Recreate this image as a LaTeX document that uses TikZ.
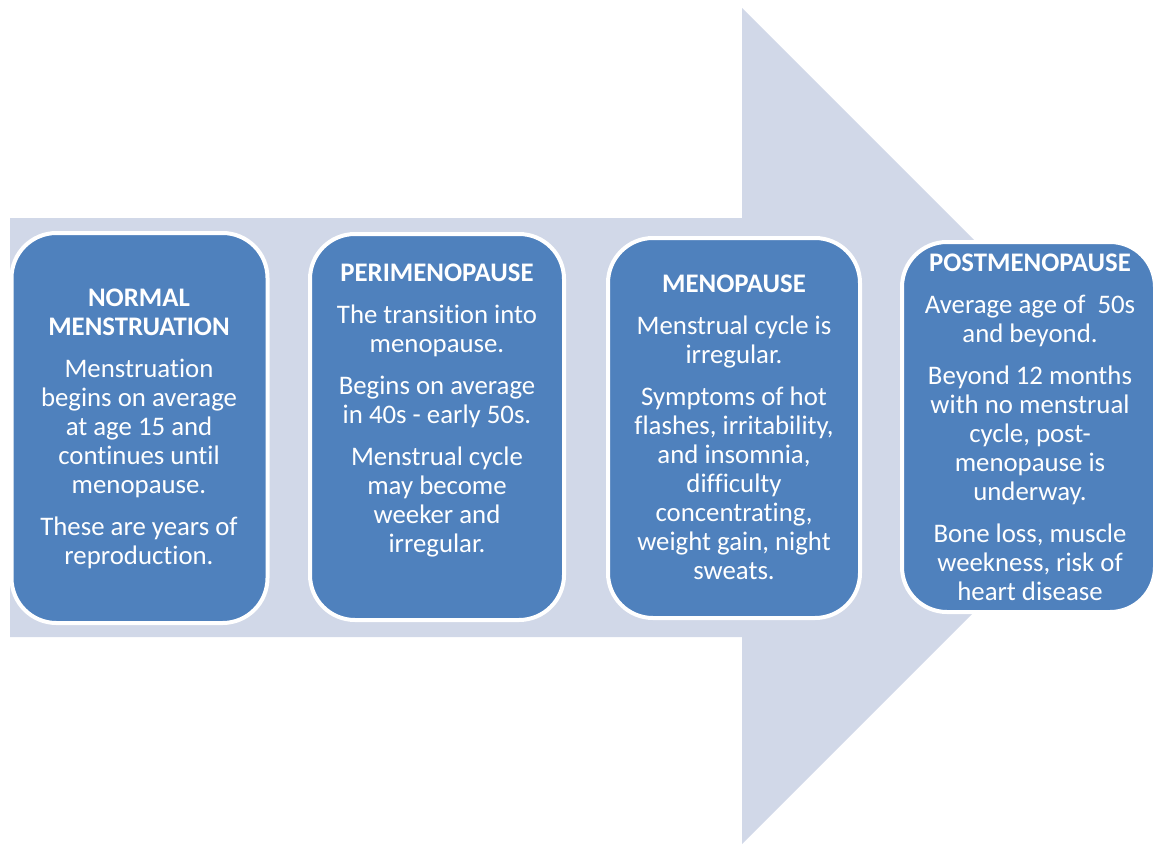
\documentclass[tikz,border=0pt]{standalone}
\usepackage{fontspec}
\setmainfont{Carlito}[Ligatures=NoCommon]
\definecolor{stageblue}{HTML}{4F81BD}
\definecolor{arrowgrey}{HTML}{D1D8E8}

\begin{document}
\begin{tikzpicture}[x=1pt, y=-1pt,
  stage/.style={rectangle, rounded corners=45pt, fill=stageblue, draw=white, line width=4pt, inner sep=0pt},
  stagetext/.style={anchor=north, align=center, inner sep=0pt, text=white, font=\fontsize{26.8}{29}\selectfont}]
\useasboundingbox (0,0) rectangle (1155,844);

\fill [arrowgrey] (10,218) -- (742,218) -- (742,8) -- (1160,426) -- (742,844) -- (742,637) -- (10,637) -- cycle;

% % % % % % % % % % % % % % % % % % % % % % % % % %

\node [stage, minimum width=256pt, minimum height=390pt] (normal) at (139.5,428) {};
\node [stage, minimum width=254pt, minimum height=386pt] (peri) at (437,427) {};
\node [stage, minimum width=252pt, minimum height=380pt] (meno) at (734,428) {};
\node [stage, minimum width=253pt, minimum height=370pt] (post) at (1028.5,427) {};

\node [stagetext] (normaltxt) at (139,288.5) {\textbf{NORMAL}\\\textbf{MENSTRUATION}\\[13pt]
  Menstruation\\begins on average\\at age 15 and\\continues until\\menopause.\\[13pt]
  These are years of\\reproduction.};
\node [stagetext] (peritxt) at (437,263.5) {\textbf{PERIMENOPAUSE}\\[13pt]
  The transition into\\menopause.\\[13pt]
  Begins on average\\in 40s - early 50s.\\[13pt]
  Menstrual cycle\\may become\\weeker and\\irregular.};
\node [stagetext] (menotxt) at (734,274.5) {\textbf{MENOPAUSE}\\[13pt]
  Menstrual cycle is\\irregular.\\[13pt]
  Symptoms of hot\\flashes, irritability,\\and insomnia,\\difficulty\\concentrating,\\weight gain, night\\sweats.};
\node [stagetext] (posttxt) at (1030,253.5) {\textbf{POSTMENOPAUSE}\\[13pt]
  Average age of~~50s\\and beyond.\\[13pt]
  Beyond 12 months\\with no menstrual\\cycle, post-\\menopause is\\underway.\\[13pt]
  Bone loss, muscle\\weekness, risk of\\heart disease};
\end{tikzpicture}
\end{document}
